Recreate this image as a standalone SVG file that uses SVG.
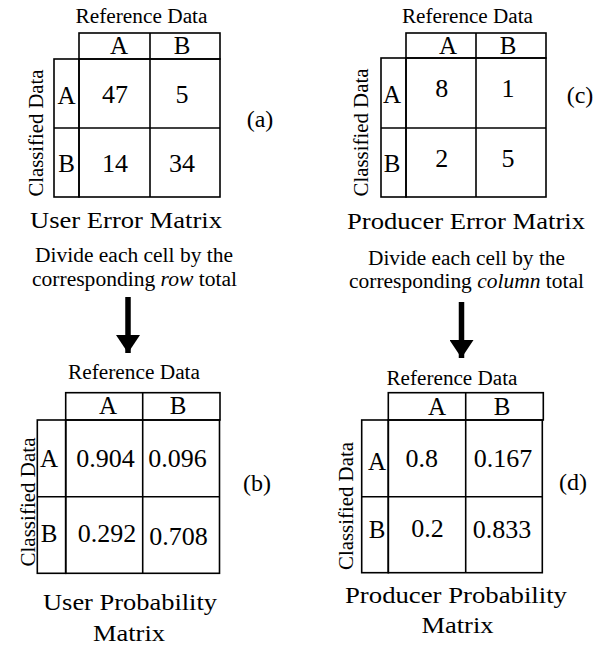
<svg xmlns="http://www.w3.org/2000/svg" width="607" height="645" viewBox="0 0 607 645">
<style>
text{fill:#000;text-anchor:middle}
.ref{font-size:20px}
.cell{font-size:26px}
.lab{font-size:25px}
.tag{font-size:24px}
.cap{font-size:24px}
.note{font-size:20px}
.side{font-size:20.5px}
.g{fill:none;stroke:#000;stroke-width:1.6}
</style>
<defs>
<marker id="ah" viewBox="0 0 18 24" refX="18" refY="12" markerUnits="userSpaceOnUse" markerWidth="18" markerHeight="24" orient="auto">
<path d="M0,0 L18,12 L0,24 Z" fill="#000"/>
</marker>
</defs>
<rect width="607" height="645" fill="#fff"/>
<g font-family="'Liberation Serif', 'Times New Roman', serif">
<g id="matrix-a">
<text class="ref" x="141.5" y="23" textLength="132" lengthAdjust="spacingAndGlyphs">Reference Data</text>
<rect class="g" x="79" y="33" width="141" height="26"/>
<line class="g" x1="150" y1="33" x2="150" y2="59"/>
<rect class="g" x="54" y="59" width="25" height="138"/>
<rect class="g" x="79" y="59" width="141" height="138"/>
<line class="g" x1="150" y1="59" x2="150" y2="197"/>
<line class="g" x1="54" y1="128" x2="220" y2="128"/>
<text class="lab" x="119" y="54">A</text>
<text class="lab" x="182" y="54">B</text>
<text class="lab" x="66.5" y="104">A</text>
<text class="lab" x="66.5" y="172">B</text>
<text class="cell" x="115" y="103">47</text>
<text class="cell" x="182" y="103">5</text>
<text class="cell" x="115" y="172">14</text>
<text class="cell" x="182" y="172">34</text>
<text class="side" x="0" y="0" transform="translate(43,133) rotate(-90)" textLength="127" lengthAdjust="spacingAndGlyphs">Classified Data</text>
<text class="tag" x="260" y="127">(a)</text>
<text class="cap" x="126" y="228" textLength="192" lengthAdjust="spacingAndGlyphs">User Error Matrix</text>
</g>

<g id="note-row">
<text class="note" x="134" y="261.5" textLength="198" lengthAdjust="spacingAndGlyphs">Divide each cell by the</text>
<text class="note" x="134.5" y="286" textLength="205" lengthAdjust="spacingAndGlyphs">corresponding <tspan font-style="italic">row</tspan> total</text>
</g>

<g id="matrix-c">
<text class="ref" x="467.5" y="23" textLength="131" lengthAdjust="spacingAndGlyphs">Reference Data</text>
<rect class="g" x="406" y="33" width="140" height="25"/>
<line class="g" x1="476" y1="33" x2="476" y2="58"/>
<rect class="g" x="381" y="58" width="25" height="139"/>
<rect class="g" x="406" y="58" width="140" height="139"/>
<line class="g" x1="476" y1="58" x2="476" y2="197"/>
<line class="g" x1="381" y1="128" x2="546" y2="128"/>
<text class="lab" x="448" y="54">A</text>
<text class="lab" x="508" y="54">B</text>
<text class="lab" x="392" y="103">A</text>
<text class="lab" x="392" y="172">B</text>
<text class="cell" x="441.7" y="97">8</text>
<text class="cell" x="508" y="97">1</text>
<text class="cell" x="441.7" y="167">2</text>
<text class="cell" x="508" y="167">5</text>
<text class="side" x="0" y="0" transform="translate(368,132.5) rotate(-90)" textLength="128" lengthAdjust="spacingAndGlyphs">Classified Data</text>
<text class="tag" x="580" y="103">(c)</text>
<text class="cap" x="466" y="229" textLength="238" lengthAdjust="spacingAndGlyphs">Producer Error Matrix</text>
</g>

<g id="note-column">
<text class="note" x="466.5" y="265" textLength="197" lengthAdjust="spacingAndGlyphs">Divide each cell by the</text>
<text class="note" x="466.5" y="288" textLength="235" lengthAdjust="spacingAndGlyphs">corresponding <tspan font-style="italic">column</tspan> total</text>
</g>

<g id="matrix-b">
<text class="ref" x="134" y="379" textLength="132" lengthAdjust="spacingAndGlyphs">Reference Data</text>
<rect class="g" x="65.7" y="392.7" width="154.3" height="27.3"/>
<line class="g" x1="142.7" y1="392.7" x2="142.7" y2="420"/>
<rect class="g" x="37.3" y="420" width="28.4" height="153.3"/>
<rect class="g" x="65.7" y="420" width="153.8" height="153.3"/>
<line class="g" x1="142.7" y1="420" x2="142.7" y2="573.3"/>
<line class="g" x1="37.3" y1="496.7" x2="219.5" y2="496.7"/>
<text class="lab" x="108" y="414">A</text>
<text class="lab" x="178" y="414">B</text>
<text class="lab" x="49" y="467">A</text>
<text class="lab" x="49" y="542">B</text>
<text class="cell" x="105.5" y="467">0.904</text>
<text class="cell" x="177.5" y="467">0.096</text>
<text class="cell" x="107" y="541.5">0.292</text>
<text class="cell" x="178.5" y="545">0.708</text>
<text class="side" x="0" y="0" transform="translate(35,502) rotate(-90)" textLength="129" lengthAdjust="spacingAndGlyphs">Classified Data</text>
<text class="tag" x="257" y="491">(b)</text>
<text class="cap" x="130" y="610" textLength="174" lengthAdjust="spacingAndGlyphs">User Probability</text>
<text class="cap" x="129" y="641" textLength="72" lengthAdjust="spacingAndGlyphs">Matrix</text>
</g>

<g id="matrix-d">
<text class="ref" x="452" y="385" textLength="131" lengthAdjust="spacingAndGlyphs">Reference Data</text>
<rect class="g" x="388.3" y="392.7" width="155" height="27.3"/>
<line class="g" x1="465.7" y1="392.7" x2="465.7" y2="420"/>
<rect class="g" x="361.7" y="420" width="26.6" height="152.7"/>
<rect class="g" x="388.3" y="420" width="154" height="152.7"/>
<line class="g" x1="465.7" y1="420" x2="465.7" y2="572.7"/>
<line class="g" x1="361.7" y1="496.7" x2="542.3" y2="496.7"/>
<text class="lab" x="437" y="415">A</text>
<text class="lab" x="502" y="415">B</text>
<text class="lab" x="377" y="470">A</text>
<text class="lab" x="377" y="538">B</text>
<text class="cell" x="421.7" y="466.7">0.8</text>
<text class="cell" x="503" y="466.7">0.167</text>
<text class="cell" x="427.5" y="536.7">0.2</text>
<text class="cell" x="502" y="538">0.833</text>
<text class="side" x="0" y="0" transform="translate(353,506) rotate(-90)" textLength="128" lengthAdjust="spacingAndGlyphs">Classified Data</text>
<text class="tag" x="573" y="490">(d)</text>
<text class="cap" x="456" y="603" textLength="222" lengthAdjust="spacingAndGlyphs">Producer Probability</text>
<text class="cap" x="457.5" y="633" textLength="72" lengthAdjust="spacingAndGlyphs">Matrix</text>
</g>
</g>
<g id="connectors">
<line x1="128" y1="297" x2="128" y2="353" stroke="#000" stroke-width="5.5" marker-end="url(#ah)"/>
<line x1="461.5" y1="302" x2="461.5" y2="358" stroke="#000" stroke-width="5.5" marker-end="url(#ah)"/>
</g>
</svg>
